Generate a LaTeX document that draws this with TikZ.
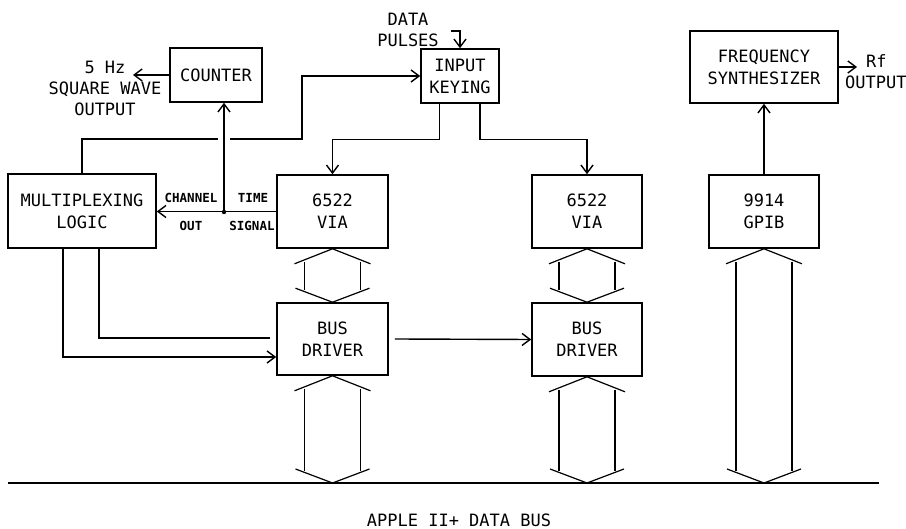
\documentclass[tikz,border=0pt]{standalone}
\usepackage{fontspec}
\newfontfamily\plotfont{DejaVu Sans Mono}
\usetikzlibrary{arrows.meta,calc}
\tikzset{
 box/.style={draw,line width=1.6pt,inner sep=0pt,align=center,font=\plotfont\fontsize{17}{22}\selectfont},
 lbl/.style={inner sep=0pt,align=center,font=\plotfont\fontsize{17}{21}\selectfont},
 small/.style={inner sep=0pt,font=\plotfont\bfseries\fontsize{12.5}{14}\selectfont},
 wire/.style={line width=1.4pt},
 arr/.style={wire,-{Straight Barb[length=8pt,width=12pt]}},
 hollow/.style={line width=1.2pt},
 busline/.style={line width=2pt}
}
\newcommand\hollowarrow[2]{%
 \draw[hollow] ($(#1)+(-38,15)$) -- (#1) -- ($(#1)+(38,15)$);
 \draw[hollow] ($(#2)+(-37,-14)$) -- (#2) -- ($(#2)+(37,-14)$);
 \draw[hollow] ($(#1)+(-28,13)$) -- ($(#2)+(-28,-12)$);
 \draw[hollow] ($(#1)+(28,13)$) -- ($(#2)+(28,-12)$);
}
\begin{document}
\begin{tikzpicture}[x=1pt,y=-1pt]
\fill[white] (0,0) rectangle (906,529);
\useasboundingbox (0,0) rectangle (906,529);

% boxes
\node[box,minimum width=92pt,minimum height=54pt] (counter) at (216,75) {COUNTER};
\node[box,minimum width=148pt,minimum height=74pt] (mux) at (82,211) {MULTIPLEXING\\LOGIC};
\node[box,minimum width=78pt,minimum height=54pt] (inkey) at (460,76) {INPUT\\KEYING};
\node[box,minimum width=111pt,minimum height=73pt] (via1) at (332.5,211.5) {6522\\VIA};
\node[box,minimum width=110pt,minimum height=73pt] (via2) at (587,211.5) {6522\\VIA};
\node[box,minimum width=110pt,minimum height=73pt] (gpib) at (764,211.5) {9914\\GPIB};
\node[box,minimum width=148pt,minimum height=72pt] (freq) at (764,67) {FREQUENCY\\SYNTHESIZER};
\node[box,minimum width=111pt,minimum height=72pt] (bus1) at (332.5,339) {BUS\\DRIVER};
\node[box,minimum width=110pt,minimum height=73pt] (bus2) at (587,339.5) {BUS\\DRIVER};

% labels
\node[lbl] (sqlbl) at (105,88) {5 Hz\\SQUARE WAVE\\OUTPUT};
\node[lbl] (dplbl) at (408,30) {DATA\\PULSES};
\node[lbl,anchor=west] (rflbl) at (866,61) {Rf};
\node[lbl,anchor=west] (rfout) at (845,82) {OUTPUT};
\node[small] (chl) at (191,198) {CHANNEL};
\node[small] (outl) at (191,226) {OUT};
\node[small] (timel) at (253,198) {TIME};
\node[small] (sigl) at (252,226) {SIGNAL};
\node[lbl] (buslbl) at (459,520) {APPLE II+ DATA BUS};

% coordinates
\coordinate (sq) at (133,75);
\coordinate (J) at (224,212);
\coordinate (g1) at (218,139);
\coordinate (g2) at (230,139);
\coordinate (turn) at (302,76);
\coordinate (dp) at (451,31);
\coordinate (rf) at (857,67);
\coordinate (m1) at (63,357);
\coordinate (m2) at (99,338);
\coordinate (m2e) at (270,338);
\coordinate (busL) at (8,483);
\coordinate (busR) at (879,483);
\coordinate (b1) at (bus1.south |- busL);
\coordinate (b2) at (bus2.south |- busL);
\coordinate (b3) at (gpib.south |- busL);

% connectors
\draw[arr] (counter.west) -- (sq);
\draw[wire] (mux.north) |- (g1);
\draw[arr] (g2) -| (turn) -- (inkey.west);
\draw[arr] (via1.west) -- (mux.east |- via1.west);
\draw[arr] (J) -- (J |- counter.south);
\fill (J) circle (2.2pt);
\draw[arr] (dp) -| (inkey.north);
\draw[arr] ([xshift=19pt]inkey.south west) -- ++(0,36) -| (via1.north);
\draw[arr] ([xshift=-20pt]inkey.south east) -- ++(0,36) -| (via2.north);
\draw[arr] (gpib.north) -- (freq.south);
\draw[arr] (freq.east) -- (rf);
\draw[arr] (mux.south -| m1) -- (m1) -- (m1 -| bus1.west);
\draw[wire] (mux.south -| m2) -- (m2) -- (m2e);
\draw[arr] ([xshift=6pt]bus1.east) -- (bus2.west);
\draw[busline] (busL) -- (busR);

% hollow bus arrows
\hollowarrow{via1.south}{bus1.north}
\hollowarrow{bus1.south}{b1}
\hollowarrow{via2.south}{bus2.north}
\hollowarrow{bus2.south}{b2}
\hollowarrow{gpib.south}{b3}
\end{tikzpicture}
\end{document}
